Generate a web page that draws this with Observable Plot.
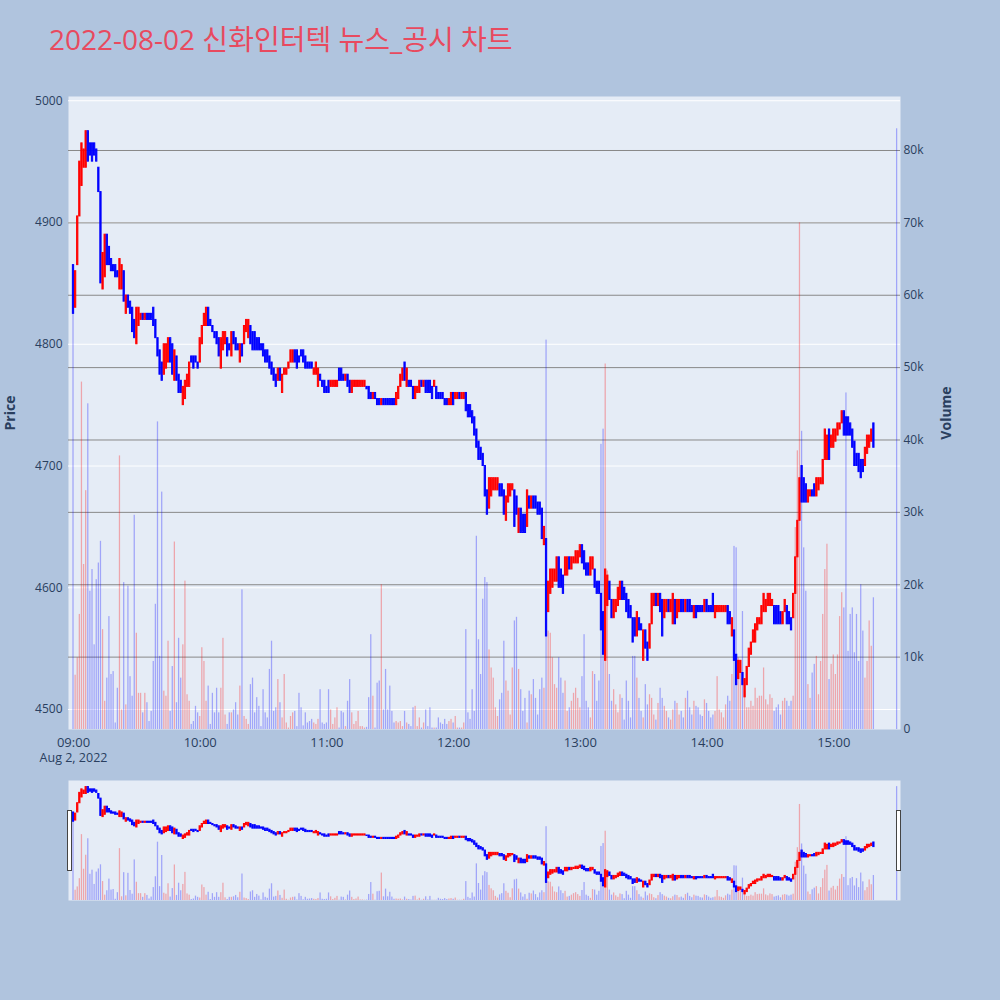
<!DOCTYPE html>
<html><head><meta charset="utf-8">
<script src="https://cdn.jsdelivr.net/npm/d3@7"></script>
<script src="https://cdn.jsdelivr.net/npm/@observablehq/plot@0.6"></script>
<style>
html,body{margin:0;padding:0;background:#b0c4de;}
#root{position:relative;width:1000px;height:1000px;background:#b0c4de;overflow:hidden;font-family:"Open Sans",sans-serif;}
#title{position:absolute;left:49px;top:25px;font-size:28px;line-height:28px;color:#e84a5f;white-space:nowrap;font-family:"Open Sans","Noto Sans CJK KR",sans-serif;}
.ytitle{position:absolute;font-size:14px;font-weight:bold;color:#2a3f5f;white-space:nowrap;transform:translate(-50%,-50%) rotate(-90deg);font-family:"Open Sans",sans-serif;}
#main,#slider{position:absolute;left:0;}
#main{top:0}
#slider{top:780px}
.grab{position:absolute;top:810px;width:3px;height:59px;background:#fff;border:1px solid #444;}
</style></head>
<body><div id="root">
<div id="title">2022-08-02 신화인터텍 뉴스_공시 차트</div>
<div id="main"></div>
<div id="slider"></div>
<div class="ytitle" style="left:9px;top:413px">Price</div>
<div class="ytitle" style="left:945px;top:413px">Volume</div>
<div class="grab" style="left:67px"></div>
<div class="grab" style="left:896px"></div>
</div>
<script>
// 1-minute candles from 09:00 (index 0) to 15:19
const opens = [
4865,4830,4865,4905,4930,4945,4945,4975,4965,4965,
4965,4960,4945,4925,4845,4855,4890,4880,4870,4865,
4865,4860,4845,4845,4860,4825,4840,4835,4830,4820,
4800,4815,4820,4825,4820,4825,4825,4825,4830,4820,
4805,4795,4785,4775,4780,4785,4805,4800,4770,4790,
4775,4770,4750,4755,4765,4765,4790,4790,4790,4785,
4785,4800,4815,4815,4830,4820,4815,4810,4810,4805,
4780,4795,4800,4805,4800,4790,4810,4805,4800,4785,
4800,4800,4810,4805,4815,4810,4810,4805,4805,4800,
4800,4795,4795,4790,4785,4780,4775,4770,4780,4760,
4775,4775,4780,4785,4785,4795,4795,4790,4795,4795,
4790,4785,4785,4785,4775,4775,4765,4775,4770,4770,
4765,4770,4765,4765,4765,4765,4780,4780,4775,4770,
4775,4770,4760,4765,4765,4765,4765,4765,4765,4765,
4765,4760,4755,4760,4755,4755,4750,4755,4755,4755,
4755,4755,4755,4750,4755,4765,4770,4785,4765,4770,
4770,4765,4755,4760,4760,4770,4765,4770,4770,4770,
4765,4765,4765,4760,4760,4760,4755,4755,4750,4750,
4760,4755,4755,4760,4755,4755,4760,4750,4750,4745,
4740,4730,4720,4715,4710,4700,4680,4665,4675,4680,
4680,4680,4685,4685,4680,4655,4670,4675,4680,4680,
4675,4645,4665,4660,4660,4650,4675,4665,4675,4675,
4670,4670,4665,4635,4640,4580,4595,4600,4605,4605,
4625,4615,4610,4610,4610,4625,4615,4620,4620,4620,
4625,4635,4630,4620,4620,4610,4615,4615,4605,4605,
4595,4580,4540,4585,4605,4590,4575,4580,4585,4590,
4605,4600,4595,4590,4585,4575,4575,4560,4575,4570,
4540,4565,4555,4550,4570,4585,4595,4585,4595,4590,
4575,4580,4590,4580,4570,4590,4575,4580,4590,4590,
4580,4590,4590,4585,4575,4585,4585,4585,4585,4580,
4590,4585,4585,4595,4575,4580,4580,4580,4580,4580,
4585,4580,4560,4565,4545,4525,4530,4530,4510,4520,
4535,4545,4555,4555,4565,4570,4570,4580,4580,4585,
4585,4585,4585,4585,4585,4580,4570,4580,4585,4580,
4575,4575,4595,4625,4655,4700,4690,4685,4670,4675,
4680,4685,4675,4680,4685,4685,4705,4705,4730,4715,
4715,4720,4725,4730,4735,4745,4740,4740,4735,4730,
4720,4710,4710,4705,4705,4700,4710,4715,4720,4735
];
const closes = [
4825,4860,4905,4950,4965,4960,4975,4950,4955,4950,
4955,4950,4925,4850,4875,4890,4865,4865,4860,4860,
4855,4855,4870,4865,4835,4840,4830,4825,4810,4805,
4830,4830,4825,4820,4825,4820,4820,4820,4815,4805,
4790,4775,4770,4800,4800,4805,4785,4775,4795,4770,
4760,4760,4765,4770,4775,4785,4785,4780,4785,4780,
4805,4815,4825,4830,4815,4815,4810,4805,4800,4790,
4805,4810,4810,4790,4795,4810,4800,4795,4795,4800,
4790,4815,4820,4820,4800,4795,4795,4795,4795,4795,
4790,4785,4785,4780,4775,4770,4765,4780,4770,4775,
4780,4780,4785,4795,4795,4785,4780,4785,4790,4785,
4780,4780,4780,4780,4780,4785,4780,4770,4765,4760,
4760,4760,4770,4770,4770,4770,4770,4770,4770,4775,
4765,4760,4770,4770,4770,4770,4770,4770,4770,4763,
4755,4755,4760,4755,4750,4750,4755,4750,4750,4750,
4750,4750,4750,4760,4765,4775,4780,4770,4780,4765,
4765,4755,4765,4765,4770,4765,4770,4760,4760,4760,
4755,4770,4755,4755,4755,4755,4750,4750,4755,4760,
4750,4760,4760,4755,4760,4760,4745,4740,4740,4735,
4725,4715,4705,4705,4700,4675,4660,4690,4690,4690,
4690,4690,4675,4675,4660,4675,4685,4685,4685,4650,
4660,4665,4645,4645,4645,4680,4665,4675,4665,4665,
4660,4660,4640,4650,4560,4605,4615,4615,4615,4625,
4600,4600,4595,4625,4625,4615,4625,4625,4630,4630,
4635,4620,4615,4610,4610,4625,4625,4600,4595,4595,
4565,4545,4615,4610,4590,4575,4590,4590,4600,4605,
4590,4590,4580,4575,4575,4555,4560,4580,4565,4565,
4565,4550,4540,4570,4595,4595,4585,4595,4580,4560,
4590,4590,4580,4590,4595,4570,4590,4590,4580,4580,
4590,4580,4580,4580,4585,4575,4580,4580,4580,4590,
4580,4580,4580,4580,4585,4585,4585,4585,4585,4585,
4570,4570,4575,4540,4520,4540,4540,4520,4525,4535,
4550,4555,4565,4570,4575,4575,4585,4595,4590,4595,
4595,4590,4570,4570,4570,4570,4580,4590,4570,4570,
4565,4595,4625,4655,4690,4670,4670,4670,4680,4680,
4675,4675,4690,4690,4690,4705,4730,4725,4705,4725,
4730,4730,4735,4735,4745,4725,4725,4725,4725,4715,
4700,4700,4695,4690,4695,4715,4725,4725,4730,4715
];
// volume in thousands of shares
const volumes = [
60,7.5,9.9,15.9,48,22.8,33,45,19.1,22.1,
11.7,20.7,23,26,13.8,3.9,7.1,15.6,7.6,8,
0.9,5.7,37.8,2.7,20.3,3.4,19.8,7.3,4.6,29.6,
13.3,5,5,2.3,5,3.7,1.1,2.5,9.4,17.3,
42.5,10.1,32.8,5.3,4.6,12.2,2.5,8.7,25.9,3.7,
12.6,7.1,11.7,20.5,4.8,3.9,0.7,1.1,3.2,2.3,
1.8,11.3,9.4,3.9,6,0.7,5,2.3,5.7,2.3,
5.7,12.6,2,0.7,2.3,2.3,2.7,3.7,2,6,
19.3,1.8,1.4,0.7,6.2,7.1,2.3,4.4,3.2,0.4,
5.5,2.3,1.6,8.3,12.2,2.5,3,6.9,3.7,1.6,
7.6,0.9,0.2,1.8,2.3,2.5,0.4,5,3,0.5,
2.3,0.9,1.1,1.4,0.9,0.7,1.4,5.5,0.9,0.7,
0.9,5.5,2.7,0.7,1.6,3,0.2,2.5,2.3,0.4,
3.9,6.9,2.3,0.7,1.1,2.5,0.4,0.4,0.2,0.3,
4.4,13.1,4.6,0.2,6.4,6.7,20,2.7,8.3,2.7,
6,2.5,0.9,1.1,0.9,1.1,0.4,2.5,0.9,0.7,
0.4,3,3.2,0.4,1.6,0.2,0.9,2.7,0.4,3,
0.2,0.2,0.2,1.6,0.9,0.7,1.4,0.7,1.1,1.4,
0.9,1.8,0.2,0.2,0.2,0.9,13.8,2.3,1.4,5.5,
2.5,26.7,12.4,7.6,18,21,20.3,11,8.5,7.1,
3,1.8,4.1,5,12.2,6.7,5.3,2,8.5,15,
15.5,8.3,5.5,2.5,4.3,0.9,5.3,4.8,6.9,4.3,
2,5.5,7.1,5.7,53.8,13.6,13.3,9.9,6.2,5.7,
9.9,7.1,5,6.7,2.5,3,3.9,5,5.7,4.3,
3,7.3,13.1,3.9,3,1.6,8,7.6,3.9,6.7,
39.4,41.5,50.5,21.9,7.6,3.9,5.5,3.4,2.3,4.8,
4.3,1.3,6.7,3.9,1.6,10.1,10.1,7.1,4.3,2.5,
1.6,6.2,3.4,4.8,4.3,2,1.3,3.6,5.7,4.3,
3.2,2.5,1.6,1.3,2.7,3.9,3.6,2,2.5,1.6,
4.3,5.3,3,2,3.9,3.2,3,2,1.8,4.1,
3.6,2.5,1.6,2,2.5,7.3,2.7,2.3,1.6,3.4,
4.6,3.9,7.6,25.3,25.1,9.9,9,16.3,5.3,3,
3,3.9,3.2,5.7,4.3,4.6,4.6,8.5,4.1,3.4,
4.8,4.3,2.5,3,3.4,2,3.9,4.3,3.9,3.2,
3.9,4.6,27.9,38.5,70,41.2,25.1,19.1,6.2,4.3,
7.8,9,10.1,4.8,9.4,15.9,22.1,25.6,6.9,9,
10.3,7.6,10.3,15.6,18.9,16.8,46.5,10.8,15.9,16.8,
10.6,15.9,9.4,20,13.6,7.1,9.4,15,11.5,18.2
];
// closing auction
const auctionTimes = ["15:30"];
const auctionOpens = [4720];
const auctionCloses = [4720];
const auctionVolumes = [83];

const priceTicks = [4500, 4600, 4700, 4800, 4900, 5000];
const volumeTicks = [0, 10000, 20000, 30000, 40000, 50000, 60000, 70000, 80000];
const timeTicks = ["09:00", "10:00", "11:00", "12:00", "13:00", "14:00", "15:00"];
const dateLabel = "Aug 2, 2022";

const UP = "#ff0000", DOWN = "#0000ff";
const MIN = 60000;
const at = hm => { const [h, m] = hm.split(":").map(Number); return new Date(Date.UTC(2022, 7, 2, h, m)); };
const t0 = at("09:00");

const rows = opens.map((o, i) => ({t: new Date(+t0 + i * MIN), o, c: closes[i], v: volumes[i] * 1000}));
auctionTimes.forEach((s, i) => rows.push({t: at(s), o: auctionOpens[i], c: auctionCloses[i], v: auctionVolumes[i] * 1000}));
rows.forEach(d => d.col = d.c > d.o ? UP : DOWN);

const xDomain = [new Date(+t0 - 2.37 * MIN), new Date(+t0 + 391.6 * MIN)];
const yDomain = [4483.6, 5003.5];
const volTop = 87460;
const v2p = d3.scaleLinear([0, volTop], yDomain);
const xl = d => new Date(+d.t - 0.3 * MIN), xr = d => new Date(+d.t + 0.3 * MIN);

function layers() {
  return [
    Plot.rect(rows, {x1: xl, x2: xr, y1: () => yDomain[0], y2: d => v2p(d.v), fill: "col", fillOpacity: 0.3}),
    Plot.rect(rows, {x1: xl, x2: xr, y1: "o", y2: "c", fill: "col", stroke: "col", strokeWidth: 1})
  ];
}

const main = Plot.plot({
  width: 1000, height: 780,
  marginLeft: 68, marginRight: 100, marginTop: 96, marginBottom: 51,
  x: {type: "utc", domain: xDomain},
  y: {domain: yDomain},
  color: {type: "identity"},
  style: {background: "transparent", fontFamily: "Open Sans, sans-serif", fontSize: "12px", color: "#2a3f5f", overflow: "visible"},
  marks: [
    Plot.frame({fill: "#e5ecf6", stroke: null}),
    Plot.ruleY(priceTicks, {stroke: "#ffffff", strokeWidth: 1}),
    Plot.ruleY(volumeTicks.filter(v => v > 0).map(v => v2p(v)), {stroke: "#888888", strokeWidth: 1}),
    ...layers(),
    Plot.axisY(priceTicks, {anchor: "left", tickSize: 0, tickPadding: 6, fontSize: 12, label: null, tickFormat: d => String(d)}),
    Plot.axisY(volumeTicks.map(v => v2p(v)), {anchor: "right", tickSize: 0, tickPadding: 3, fontSize: 12, label: null,
      tickFormat: d => { const v = Math.round(v2p.invert(d) / 1000); return v === 0 ? "0" : v + "k"; }}),
    Plot.axisX(timeTicks.map(at), {anchor: "bottom", tickSize: 0, tickPadding: 8, fontSize: 13, label: null,
      tickFormat: d => d3.utcFormat("%H:%M")(d)}),
    Plot.text([at(timeTicks[0])], {x: d => d, frameAnchor: "bottom", lineAnchor: "top", dy: 24, fontSize: 12.5, text: () => dateLabel, fill: "currentColor"})
  ]
});
document.getElementById("main").append(main);

const slider = Plot.plot({
  width: 1000, height: 120,
  marginLeft: 68, marginRight: 100, marginTop: 0, marginBottom: 0,
  x: {type: "utc", domain: xDomain, axis: null},
  y: {domain: yDomain, axis: null},
  color: {type: "identity"},
  style: {background: "transparent", overflow: "visible"},
  marks: [
    Plot.frame({fill: "#e5ecf6", stroke: null}),
    ...layers()
  ]
});
document.getElementById("slider").append(slider);
</script>
</body></html>
